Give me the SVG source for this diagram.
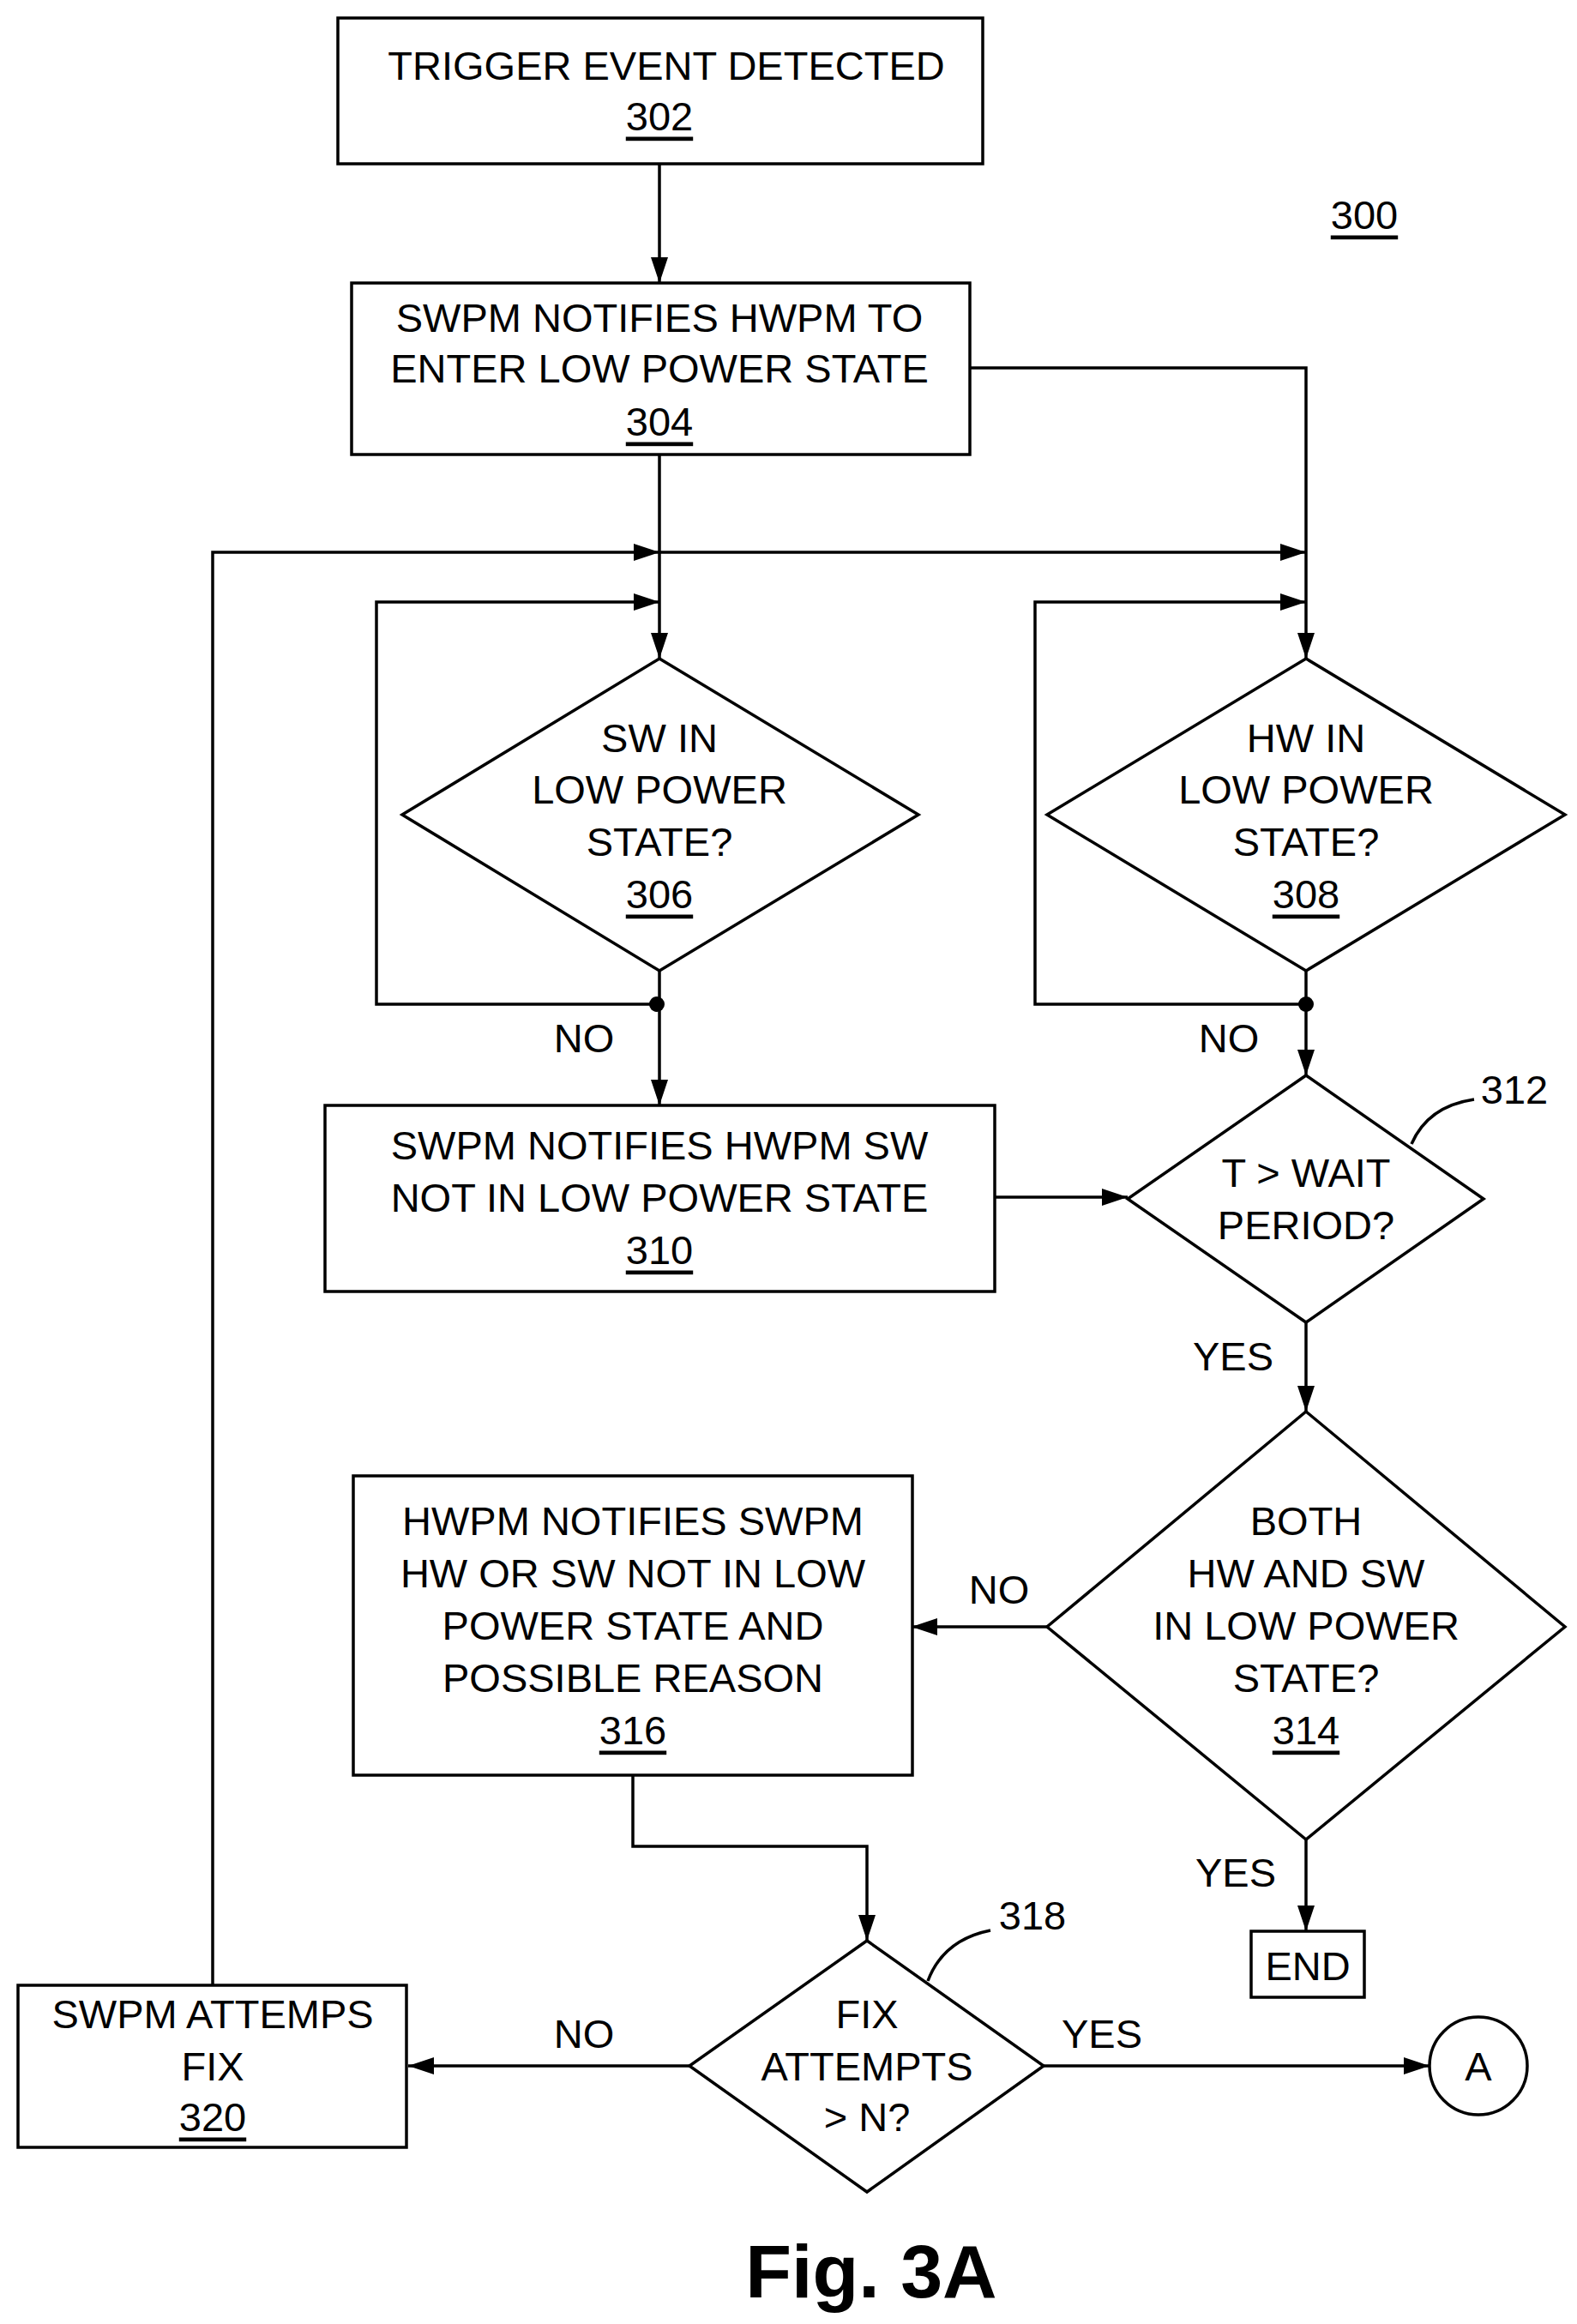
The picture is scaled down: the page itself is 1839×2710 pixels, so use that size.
<svg xmlns="http://www.w3.org/2000/svg" width="1839" height="2710" viewBox="0 0 1839 2710">
<style>
.s{fill:none;stroke:#000;stroke-width:3.5}
.n{fill:#fff;stroke:#000;stroke-width:3.5}
text{font-family:"Liberation Sans",Arial,sans-serif;font-size:47px;text-anchor:middle;dominant-baseline:central;fill:#000}
.u{text-decoration:underline}
</style>
<defs>
<marker id="a" markerWidth="10" markerHeight="8" refX="10" refY="4" orient="auto" markerUnits="userSpaceOnUse" viewBox="0 0 10 8">
<path d="M0,0L10,4L0,8z" fill="#000"/>
</marker>
</defs>
<defs><marker id="b" viewBox="0 0 30 20" refX="30" refY="10" markerWidth="30" markerHeight="20" orient="auto" markerUnits="userSpaceOnUse"><path d="M0,0L30,10L0,20z" fill="#000"/></marker></defs>
<g id="connectors">
<path class="s" d="M769,191V330" marker-end="url(#b)"/>
<path class="s" d="M1131,429H1523V768" marker-end="url(#b)"/>
<path class="s" d="M769,530V768" marker-end="url(#b)"/>
<path class="s" d="M248,2315V644H769" marker-end="url(#b)"/>
<path class="s" d="M769,644H1523" marker-end="url(#b)"/>
<path class="s" d="M769,1171H439V702H769" marker-end="url(#b)"/>
<path class="s" d="M769,1132V1289" marker-end="url(#b)"/>
<circle cx="766" cy="1171" r="9"/>
<path class="s" d="M1523,1171H1207V702H1523" marker-end="url(#b)"/>
<path class="s" d="M1523,1132V1254" marker-end="url(#b)"/>
<circle cx="1523" cy="1171" r="9"/>
<path class="s" d="M1160,1396H1315" marker-end="url(#b)"/>
<path class="s" d="M1523,1542V1646" marker-end="url(#b)"/>
<path class="s" d="M1221,1897H1063" marker-end="url(#b)"/>
<path class="s" d="M1523,2145V2252" marker-end="url(#b)"/>
<path class="s" d="M738,2070V2153H1011V2263" marker-end="url(#b)"/>
<path class="s" d="M1217,2409H1667" marker-end="url(#b)"/>
<path class="s" d="M804,2409H476" marker-end="url(#b)"/>
<path class="s" d="M1646,1334Q1665,1290 1719,1282"/>
<path class="s" d="M1082,2310Q1100,2262 1155,2251"/>
</g>
<g id="n302"><rect class="n" x="394" y="21" width="752" height="170"/><text x="777" y="76">TRIGGER EVENT DETECTED</text><text class="u" x="769" y="135">302</text></g>
<g id="n300"><text class="u" x="1591" y="250">300</text></g>
<g id="n304"><rect class="n" x="410" y="330" width="721" height="200"/><text x="769" y="370">SWPM NOTIFIES HWPM TO</text><text x="769" y="429">ENTER LOW POWER STATE</text><text class="u" x="769" y="491">304</text></g>
<g id="n306"><path class="n" d="M769,768L1071,950L769,1132L469,950z"/><text x="769" y="860">SW IN</text><text x="769" y="920">LOW POWER</text><text x="769" y="981">STATE?</text><text class="u" x="769" y="1042">306</text></g>
<g id="n308"><path class="n" d="M1523,768L1825,950L1523,1132L1221,950z"/><text x="1523" y="860">HW IN</text><text x="1523" y="920">LOW POWER</text><text x="1523" y="981">STATE?</text><text class="u" x="1523" y="1042">308</text></g>
<text x="681" y="1210">NO</text><text x="1433" y="1210">NO</text>
<g id="n310"><rect class="n" x="379" y="1289" width="781" height="217"/><text x="769" y="1335">SWPM NOTIFIES HWPM SW</text><text x="769" y="1396">NOT IN LOW POWER STATE</text><text class="u" x="769" y="1457">310</text></g>
<g id="n312"><path class="n" d="M1523,1254L1730,1398L1523,1542L1315,1398z"/><text x="1523" y="1367">T &gt; WAIT</text><text x="1523" y="1428">PERIOD?</text><text x="1766" y="1270">312</text></g>
<text x="1438" y="1581">YES</text>
<g id="n314"><path class="n" d="M1523,1646L1825,1897L1523,2145L1221,1897z"/><text x="1523" y="1773">BOTH</text><text x="1523" y="1834">HW AND SW</text><text x="1523" y="1895">IN LOW POWER</text><text x="1523" y="1956">STATE?</text><text class="u" x="1523" y="2017">314</text></g>
<text x="1165" y="1853">NO</text>
<g id="n316"><rect class="n" x="412" y="1721" width="652" height="349"/><text x="738" y="1773">HWPM NOTIFIES SWPM</text><text x="738" y="1834">HW OR SW NOT IN LOW</text><text x="738" y="1895">POWER STATE AND</text><text x="738" y="1956">POSSIBLE REASON</text><text class="u" x="738" y="2017">316</text></g>
<text x="1441" y="2183">YES</text>
<g id="end"><rect class="n" x="1459" y="2252" width="132" height="77"/><text x="1525" y="2292">END</text></g>
<g id="n318"><path class="n" d="M1011,2263L1217,2409L1011,2556L804,2409z"/><text x="1011" y="2348">FIX</text><text x="1011" y="2409">ATTEMPTS</text><text x="1011" y="2468">&gt; N?</text><text x="1204" y="2233">318</text></g>
<text x="1285" y="2371">YES</text><text x="681" y="2371">NO</text>
<g id="A"><circle class="n" cx="1724" cy="2409" r="57"/><text x="1724" y="2409">A</text></g>
<g id="n320"><rect class="n" x="21" y="2315" width="453" height="189"/><text x="248" y="2348">SWPM ATTEMPS</text><text x="248" y="2409">FIX</text><text class="u" x="248" y="2468">320</text></g>
<text x="1016" y="2648" style="font-size:88px;font-weight:bold">Fig. 3A</text>
</svg>
